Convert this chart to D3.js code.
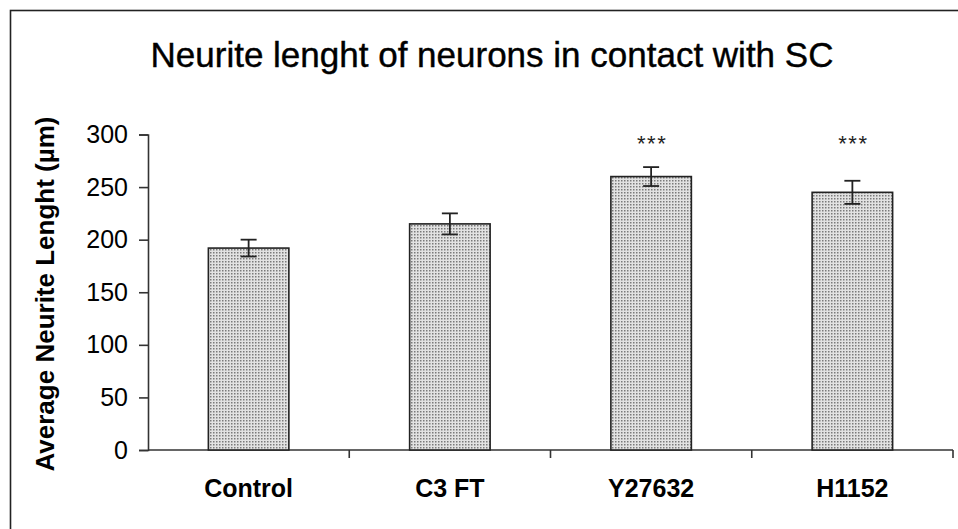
<!DOCTYPE html>
<html>
<head>
<meta charset="utf-8">
<script src="https://cdn.jsdelivr.net/npm/d3@7"></script>
<style>
  html, body { margin: 0; padding: 0; background: #fff; }
  svg { display: block; font-family: Arial, "Liberation Sans", sans-serif; }
</style>
</head>
<body>
<svg id="chart" width="958" height="529"></svg>
<script>
const categories = ["Control", "C3 FT", "Y27632", "H1152"];
const values = [192, 215, 260, 245];
const errors = [8, 10, 9, 11];
const significance = ["", "", "***", "***"];
const yTicks = [0, 50, 100, 150, 200, 250, 300];
const titleText = "Neurite lenght of neurons in contact with SC";
const yLabel = "Average Neurite Lenght (\u00b5m)";

const svg = d3.select("#chart");
const W = 958, H = 529;
const margin = { left: 148, right: 5, top: 134.5, bottom: 79 };

// outer frame
svg.append("rect").attr("x", 10.5).attr("y", 10.5).attr("width", W).attr("height", H)
  .attr("fill", "none").attr("stroke", "#222").attr("stroke-width", 1.6);

// dotted pattern
const defs = svg.append("defs");
const pat = defs.append("pattern").attr("id", "dots").attr("patternUnits", "userSpaceOnUse")
  .attr("width", 3).attr("height", 3);
pat.append("rect").attr("width", 3).attr("height", 3).attr("fill", "#e2e2e2");
pat.append("rect").attr("x", 0).attr("y", 0).attr("width", 1.5).attr("height", 1.5).attr("fill", "#7a7a7a");

const x = d3.scaleBand().domain(categories).range([margin.left, W - margin.right]).padding(0);
const y = d3.scaleLinear().domain([0, 300]).range([450, margin.top]);

// title
svg.append("text").attr("x", 492).attr("y", 67).attr("text-anchor", "middle")
  .attr("font-size", 35).attr("fill", "#000").attr("stroke", "#000").attr("stroke-width", 0.4)
  .text(titleText);

// y axis
const yAxis = svg.append("g").attr("transform", `translate(${margin.left},0)`)
  .call(d3.axisLeft(y).tickValues(yTicks).tickSize(9).tickPadding(11));
yAxis.select(".domain").attr("stroke", "#333").attr("stroke-width", 1.6);
yAxis.selectAll(".tick line").attr("stroke", "#333").attr("stroke-width", 1.6);
yAxis.selectAll(".tick text").attr("font-size", 25).attr("fill", "#000")
  .attr("font-family", "Arial, 'Liberation Sans', sans-serif");

// x axis: ticks at band boundaries
const xAxisG = svg.append("g");
xAxisG.append("line").attr("x1", margin.left).attr("x2", W - margin.right)
  .attr("y1", 450).attr("y2", 450).attr("stroke", "#333").attr("stroke-width", 1.6);
const bounds = categories.map(c => x(c) + x.bandwidth());
xAxisG.selectAll("line.xt").data(bounds).join("line").attr("class", "xt")
  .attr("x1", d => d).attr("x2", d => d).attr("y1", 450).attr("y2", 458)
  .attr("stroke", "#333").attr("stroke-width", 1.6);
xAxisG.selectAll("text.xl").data(categories).join("text").attr("class", "xl")
  .attr("x", d => x(d) + x.bandwidth() / 2).attr("y", 497)
  .attr("text-anchor", "middle").attr("font-size", 25).attr("font-weight", "bold")
  .attr("fill", "#000").text(d => d);

// y label
svg.append("text").attr("transform", `translate(54,294) rotate(-90)`)
  .attr("text-anchor", "middle").attr("font-size", 26).attr("font-weight", "bold")
  .attr("fill", "#000").text(yLabel);

// bars
const barW = x.bandwidth() * 0.4;
const data = categories.map((c, i) => ({ c, v: values[i], e: errors[i], s: significance[i] }));
svg.append("g").selectAll("rect").data(data).join("rect")
  .attr("x", d => x(d.c) + x.bandwidth() / 2 - barW / 2)
  .attr("y", d => y(d.v)).attr("width", barW).attr("height", d => y(0) - y(d.v))
  .attr("fill", "url(#dots)").attr("stroke", "#222").attr("stroke-width", 1.6);

// error bars
const eb = svg.append("g").attr("stroke", "#222").attr("stroke-width", 1.8);
data.forEach(d => {
  const cx = x(d.c) + x.bandwidth() / 2;
  eb.append("line").attr("x1", cx).attr("x2", cx).attr("y1", y(d.v + d.e)).attr("y2", y(d.v - d.e));
  eb.append("line").attr("x1", cx - 8).attr("x2", cx + 8).attr("y1", y(d.v + d.e)).attr("y2", y(d.v + d.e));
  eb.append("line").attr("x1", cx - 8).attr("x2", cx + 8).attr("y1", y(d.v - d.e)).attr("y2", y(d.v - d.e));
});

// significance
svg.append("g").selectAll("text").data(data.filter(d => d.s)).join("text")
  .attr("x", d => x(d.c) + x.bandwidth() / 2 + 1).attr("y", 151)
  .attr("text-anchor", "middle").attr("font-size", 22).attr("letter-spacing", 1.5).attr("fill", "#222")
  .text(d => d.s);
</script>
</body>
</html>
